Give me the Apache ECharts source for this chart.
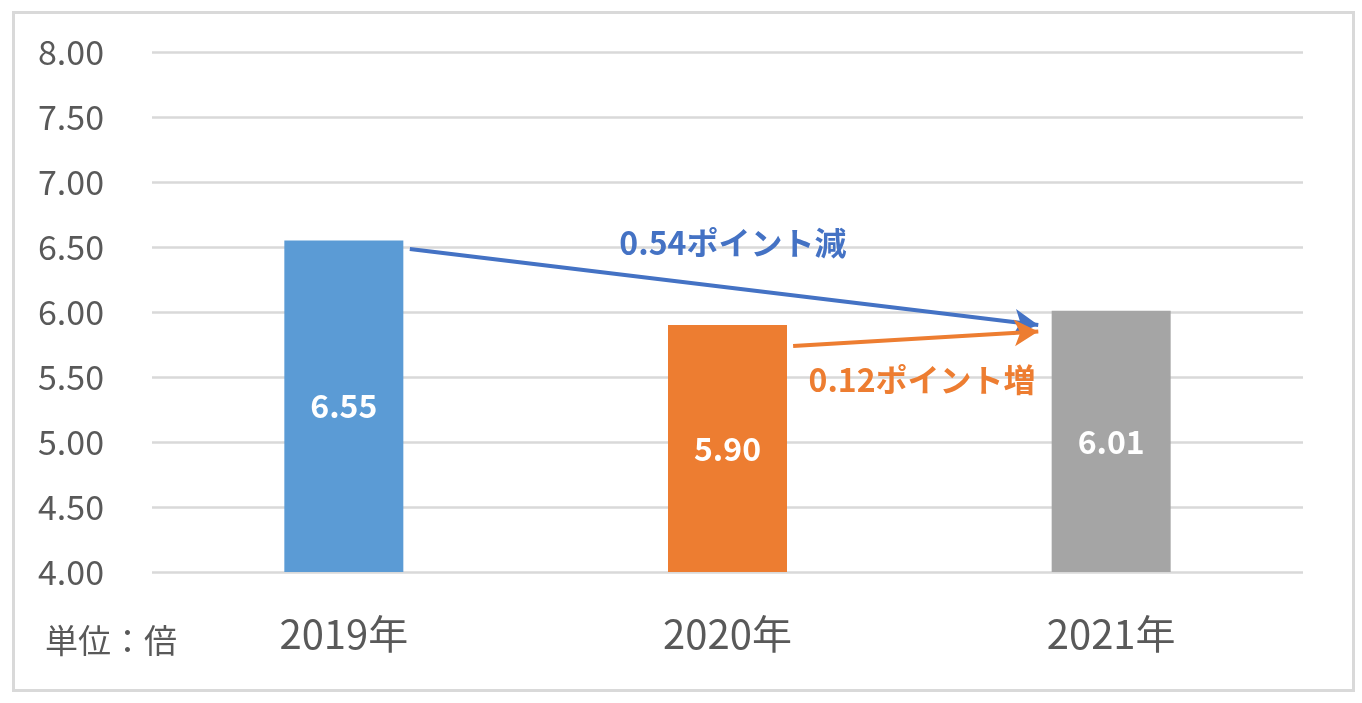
<!DOCTYPE html>
<html>
<head>
<meta charset="utf-8">
<script src="https://cdn.jsdelivr.net/npm/echarts@6/dist/echarts.min.js"></script>
<style>
html,body{margin:0;padding:0;background:#fff;}
#chart{width:1362px;height:703px;}
</style>
</head>
<body>
<div id="chart"></div>
<script>
// ---- data ----
const categories = ['2019年', '2020年', '2021年'];
const values = [6.55, 5.90, 6.01];
const barColors = ['#5B9BD5', '#ED7D31', '#A5A5A5'];
const yMin = 4.00, yMax = 8.00, yStep = 0.50;
const unitLabel = '単位：倍';
// annotation arrows in (band position, value) coordinates
const arrowDecrease = [[0.672, 6.485], [2.31, 5.90]];
const arrowIncrease = [[1.671, 5.738], [2.31, 5.85]];
const noteDecreaseText = '0.54ポイント減';
const noteDecreasePos = [1.514, 6.531];
const noteIncreaseText = '0.12ポイント増';
const noteIncreasePos = [2.007, 5.477];

const FONT = '"Noto Sans CJK JP", "Noto Sans", sans-serif';
const chart = echarts.init(document.getElementById('chart'), null, {renderer: 'canvas'});

function arrowSeries(pts, notePos, noteText, color) {
  return {
    type: 'scatter',
    xAxisIndex: 1,
    yAxisIndex: 0,
    symbolSize: 0,
    silent: true,
    z: 5,
    itemStyle: {opacity: 1},
    data: [notePos],
    label: {
      show: true,
      position: 'inside',
      formatter: noteText,
      color: color,
      opacity: 1,
      fontFamily: FONT,
      fontWeight: 'bold',
      fontSize: 32
    },
    markLine: {
      silent: true,
      symbol: ['none', 'arrow'],
      symbolSize: [20, 24],
      label: {show: false},
      lineStyle: {color: color, width: 4, type: 'solid', opacity: 1},
      emphasis: {disabled: true},
      data: [[{coord: pts[0]}, {coord: pts[1]}]]
    }
  };
}

const option = {
  animation: false,
  backgroundColor: '#ffffff',
  grid: {left: 152, right: 59, top: 52, bottom: 131, containLabel: false},
  xAxis: [
    {
      type: 'category',
      data: categories,
      axisLine: {show: false},
      axisTick: {show: false},
      axisLabel: {color: '#595959', fontSize: 40, fontFamily: FONT, margin: 42}
    },
    {
      type: 'value',
      min: 0, max: 3,
      show: false
    }
  ],
  yAxis: {
    type: 'value',
    min: yMin, max: yMax, interval: yStep,
    axisLine: {show: false},
    axisTick: {show: false},
    splitLine: {lineStyle: {color: '#d9d9d9', width: 2.5}},
    axisLabel: {
      color: '#595959', fontSize: 34, fontFamily: FONT,
      align: 'left', margin: 114,
      formatter: v => v.toFixed(2)
    }
  },
  series: [
    {
      type: 'bar',
      xAxisIndex: 0,
      barWidth: 119,
      data: values.map((v, i) => ({value: v, itemStyle: {color: barColors[i]}})),
      label: {
        show: true,
        position: 'inside',
        color: '#ffffff',
        fontWeight: 'bold',
        fontSize: 32,
        fontFamily: FONT,
        formatter: p => p.value.toFixed(2)
      }
    },
    arrowSeries(arrowDecrease, noteDecreasePos, noteDecreaseText, '#4472C4'),
    arrowSeries(arrowIncrease, noteIncreasePos, noteIncreaseText, '#ED7D31')
  ],
  graphic: [
    {
      type: 'rect',
      left: 11, top: 10,
      shape: {width: 1340, height: 678},
      style: {fill: 'none', stroke: '#d9d9d9', lineWidth: 3},
      silent: true
    },
    {
      type: 'text',
      left: 45, top: 624,
      style: {text: unitLabel, fill: '#595959', font: '33px ' + FONT}
    }
  ]
};
chart.setOption(option);
</script>
</body>
</html>
